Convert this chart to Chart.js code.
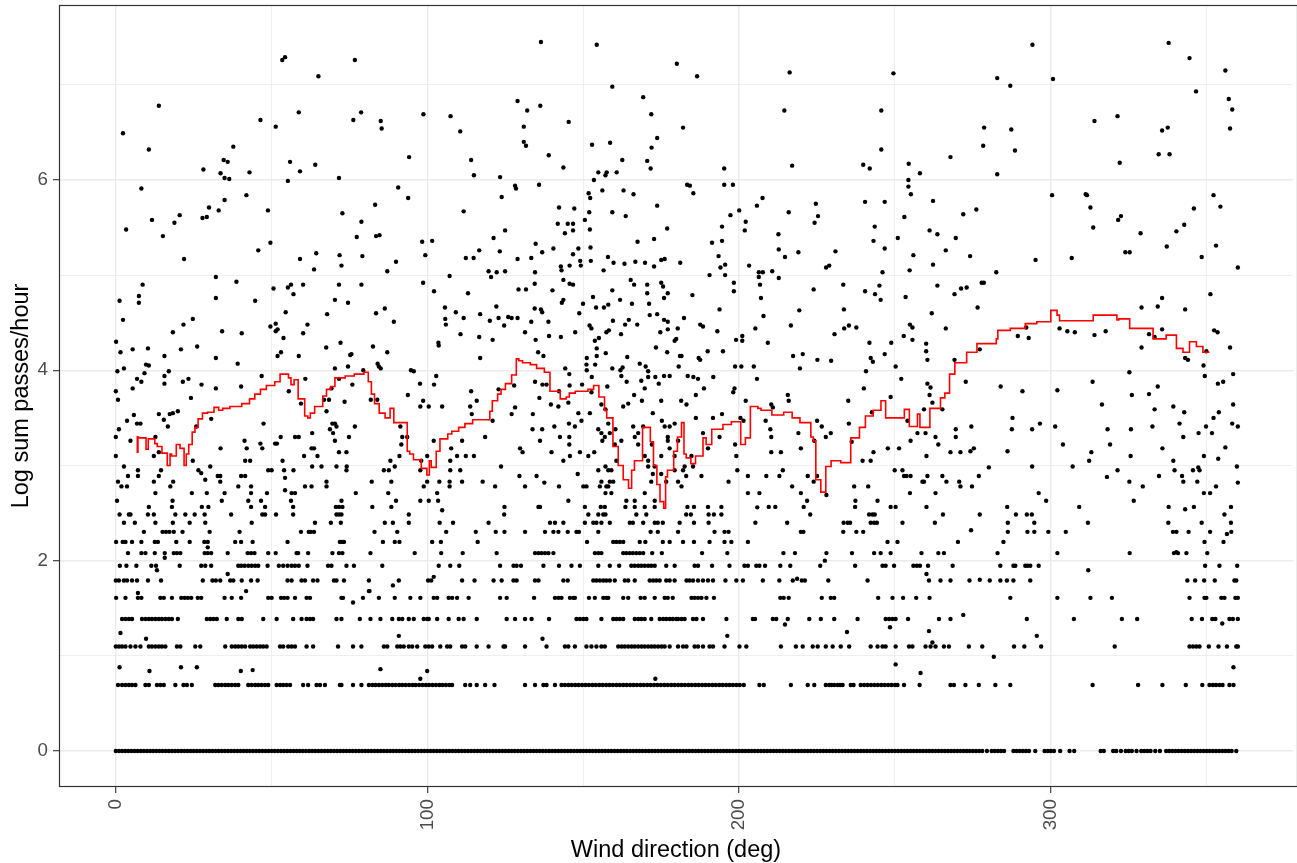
<!DOCTYPE html>
<html>
<head>
<meta charset="utf-8">
<title>Passes by wind direction</title>
<script src="https://cdn.jsdelivr.net/npm/chart.js@4/dist/chart.umd.min.js"></script>
<style>
  html, body { margin: 0; padding: 0; background: #fff; }
  #wrap { width: 1297px; height: 863px; }
</style>
</head>
<body>
<div id="wrap"><canvas id="grafico" width="1297" height="863"></canvas></div>
<script>
// wind direction (deg) of hours with n passes, one list per count n = 1..13
const dir1 = [
  0,1,2,3,4,5,6,7,8,9,10,11,12,13,14,15,16,17,18,19,20,21,22,23,24,25,26,27,28,29,
  30,31,32,33,34,35,36,37,38,39,40,41,42,43,44,45,46,47,48,49,50,51,52,53,54,55,56,57,58,59,
  60,61,62,63,64,65,66,67,68,69,70,71,72,73,74,75,76,77,78,79,80,81,82,83,84,85,86,87,88,89,
  90,91,92,93,94,95,96,97,98,99,100,101,102,103,104,105,106,107,108,109,110,111,112,113,114,115,116,117,118,119,
  120,121,122,123,124,125,126,127,128,129,130,131,132,133,134,135,136,137,138,139,140,141,142,143,144,145,146,147,148,149,
  150,151,152,153,154,155,156,157,158,159,160,161,162,163,164,165,166,167,168,169,170,171,172,173,174,175,176,177,178,179,
  180,181,182,183,184,185,186,187,188,189,190,191,192,193,194,195,196,197,198,199,200,201,202,203,204,205,206,207,208,209,
  210,211,212,213,214,215,216,217,218,219,220,221,222,223,224,225,226,227,228,229,230,231,232,233,234,235,236,237,238,239,
  240,241,242,243,244,245,246,247,248,249,250,251,252,253,254,255,256,257,258,259,260,261,262,263,264,265,266,267,268,269,
  270,271,272,273,274,275,276,277,278,279.5,281,282,283,284,285,288,289,290,291,292,293,295,298,299,300,301,303,306,307.5,
  316,317,320,321,322.5,324,325,326,327.5,329,330,331,332,333.5,335,337,338,339,340,341,342,343,344,345,346,347,348,349,
  350,351,352,353,354,355,356,357,358,359.5
];
const dir2 = [
  0.7,2,3.1,4.2,5.2,6.3,9.5,10.6,13.2,14.3,15.4,19.1,21.7,22.8,24.4,31.9,32.9,34,35.1,36.1,37.2,38.3,39.3,
  42.5,43.6,44.7,45.7,46.8,47.9,48.9,51.6,52.7,53.7,54.8,55.9,60.1,61.7,64.4,65.5,67.1,71.9,72.4,76.1,78.8,
  81.2,82.3,83.3,84.4,85.5,86.6,87.6,88.7,89.8,90.9,91.9,93,94.1,95.2,96.2,97.3,98.4,99.5,100.5,101.6,102.7,
  103.8,104.8,105.9,107,107.9,112.1,113.7,115.8,118.5,121.5,131.3,134.5,137.2,138.2,140.9,
  143,144.1,145.2,146.3,147.4,148.5,149.6,150.7,151.8,152.9,154,155.1,156.2,157.3,158.4,159.5,160.6,161.7,
  162.8,163.9,165,166.1,167.2,168.3,169.4,170.5,171.6,172.7,173.8,174.9,176,177.1,178.2,179.3,180.4,181.5,
  182.6,183.7,184.8,185.9,187,188.1,189.2,190.3,191.4,192.5,193.6,194.7,195.8,196.9,198,199.1,200.2,201.5,
  206.5,207.9,216.6,222,224.1,227.8,228.9,229.6,230.5,231.6,232.4,233.2,235.8,236.7,239,240.1,241.2,242.3,
  243.4,244.5,245.6,246.7,247.8,248.9,250,250.8,252.9,257.9,267.8,268.9,272.6,276.9,282.2,
  287,313.4,328,335.8,343.3,348.6,350.9,352,353,354.1,355.1,357.3,358.6
];
const dir3 = [
  0,1,2,3.1,4.7,6.3,7.9,10.6,11.6,12.7,13.8,14.8,15.9,19.6,20.7,25.5,27.1,35.1,37.2,38.3,39.3,40.4,41.5,
  43.1,44.1,45.2,46.3,47.3,48.4,52.7,53.7,55.3,56.4,57.5,61.2,63.3,71.3,76.1,78.8,
  86,87.1,90.3,91.3,92.4,94,95.1,96.7,99.3,100.4,101.5,104.1,106.3,107.3,111.1,112.1,115.8,119.6,124.4,124.9,
  131.3,138.2,144.1,145.2,147.3,151,152.6,154.2,155.8,156.9,161.2,162.3,163.3,164.4,165.5,166.5,167.6,
  168.7,169.7,170.8,171.9,172.9,174,175.1,176.1,177.7,
  180.4,182,183.1,185.7,186.8,188.4,190.5,191.6,195.3,200.1,202.3,213.4,218.2,220.4,223.6,225.2,227.8,230,
  232.6,235.3,242.2,244.4,246,247,250.2,254.5,255.6,259.8,261.4,263,265.7,267.3,273.7,278,
  288.2,291.5,296.9,320.5,344.5,345.6,346.7,347.7,350.7,353.8,356.5,359.5,360
];
const dir4 = [
  2,3.1,4.2,5.2,8.4,9.5,10.6,11.6,12.7,13.8,14.8,15.9,17,18,19.9,29.2,30.3,31.3,32.4,35.6,39.3,40.4,47.3,
  51.6,56.9,59.6,61.2,62.3,63.3,70.8,72.4,78.3,
  81.7,84.9,88.7,90.8,91.9,94,95.6,98.8,99.9,100.4,103.1,106.8,110,111.6,115.8,125.4,128.1,131.3,133.4,139,
  147.8,148.9,150,151,155.8,159.6,160.6,161.7,162.8,166.5,167.6,168.6,169.7,171.8,174.5,175.6,176.6,177.7,
  178.7,179.8,180.4,181.5,182.5,185.2,186.3,188.4,195.9,204.4,205.1,210.8,211.9,215.6,222.5,226.2,230.5,238,
  247,248.1,249.2,250.2,254.2,264.1,267.8,
  292.3,307.4,322.8,327.7,345.2,348.5,351.8,352.8,357.3,358.4,360
];
const dir5 = [
  0.1,3.1,7.1,8.2,14.3,15.4,18,21,22.1,23.1,24.2,26.3,27.4,34.9,37.2,40.2,48.9,50,53,54,55.1,57.5,61.2,62.3,
  72.4,72.9,79.3,
  84.4,89.5,94.5,97.7,102,103.1,106.8,107.9,109.5,113.2,123.3,125.4,134.2,140.9,142,143,145.7,146.8,147.3,
  151.8,153.7,156.4,157.4,158,162.8,164.4,168.4,169.7,172.9,176.1,177.1,178.7,
  184.7,185.7,186.8,187.9,189.5,191.9,213.2,214.3,215.9,226.5,229.4,230.5,244.6,249.2,252.6,256.8,261.1,
  287,302.1,312.7,319.6,344.5,349.3,349.9,354.7,355.7,359.2,360
];
const dir6 = [
  0,1,2.6,3.6,5.2,6.8,10.3,14.5,27.9,31,32.1,33.5,36.7,37.7,40.4,43.4,45.5,55.1,56.4,59.6,60.7,63.3,64.7,
  70,70.8,73.2,
  81.2,90.8,100.2,101.2,111.1,115.1,121.2,123.8,127.6,128.6,134.5,135.6,143.6,145,153.2,154.2,155.3,156.4,
  157.4,158.5,160.1,163.3,164.4,166.5,171.3,172.4,173.4,174.5,176.6,177.7,179.3,
  183.1,184.1,185.2,186.8,188.4,190,191.6,195.6,199.1,201.2,207.6,212.9,217.2,220.1,221.1,228.6,241.2,260.9,
  264.6,267.8,273.9,280.4,
  283.8,285.9,288,293.4,343.8,346.3,349.2,352.6,358.9,359.5
];
const dir7 = [
  1.3,3.4,6.6,11.4,12.9,20.5,27.4,28.7,30.6,39.3,40.2,41.3,42.5,43.6,44.7,45.7,48.7,52.3,53.7,55.1,56.4,57.5,
  58.7,61.5,68.1,69.2,74,76.4,
  85.5,103.6,107.3,110.2,123.3,127.6,128.6,130,137.2,142.2,146.2,148.9,154.8,158.5,161.5,165.4,166.5,167.6,
  168.6,169.7,170.8,171.8,172.9,176.6,179.3,
  185.7,186.8,191.3,196.9,201.7,202.8,205.5,206.5,208.3,213.2,216.4,226,237.2,246,247,249.7,255.9,257,258,
  260.6,268.5,
  283.8,288,288.6,291.8,292.5,293.4,296.1,349.5,354.1,359.8
];
const dir8 = [
  3.9,8.2,9.5,12.5,15.7,18.6,19.6,20.7,28.5,29.5,30.6,35.9,42.3,43.4,44.5,48.9,51.3,58,58.5,61.7,69.5,71.6,72.7,
  81.7,95.9,104.4,111.3,122.2,134.5,135.6,136.6,137.7,138.8,140.4,153.7,154.8,155.8,162.8,163.8,164.9,165.9,
  167,168.1,169.2,172.1,175.2,
  188.1,196.2,214.2,217.9,228,236.2,243.3,245.4,248.6,258.5,263.9,265.7,
  282.9,302.1,325.3,339.5,340.8,343.5,350.2
];
const dir9 = [
  0.1,2.2,3.1,5.2,8.2,12.5,13.5,19.4,23.7,28.4,29.5,38.3,40.2,43.9,55.1,71.9,72.6,73.2,
  85.7,89.5,91,101.5,104.3,116.1,151.2,159.6,160.6,161.7,162.8,168.1,169.9,175.5,177.7,
  182,185.5,190.5,195.3,197.5,202.8,247.6,250.8,270.2,
  284.8,349.3,355.4
];
const dir10 = [
  9,15,16.1,17.2,18.6,21.4,30.1,39.7,59.4,61.9,62.6,63.6,
  83,90.3,106,115.5,121.9,124.7,131.3,137.7,140.4,142,145,147.8,148.6,154.8,171.6,173.9,
  180.4,192.1,195.3,196.6,219.8,220.6,233.4,237.6,239.8,
  286.2,292.5,294.7,299.2,304.8,339.2,340.3,344.2,351.1,357.9
];
const dir11 = [
  2.6,6.1,12.7,18.3,23.7,28.7,43.6,63.9,69,72.2,
  86.3,88.9,94,103.9,108.2,119.6,139.3,140.9,143.6,150.5,153.2,154.2,155.8,158.5,164.9,165.9,169.2,172.9,
  173.9,175.5,
  180.9,185.5,190.2,205.2,215.4,233.5,234.8,235.6,242.2,243.3,244.2,252.4,262.8,
  286.2,294.7,311.9,337.7,348.4,357.8
];
const dir12 = [
  1.2,4.2,4.7,10.3,12.2,19.1,22.3,25.3,28.5,37,47,47.9,51.4,56.9,70.8,71.6,72.4,
  94,124.6,151.6,154.8,156.4,157.1,167,170.2,183,
  184.5,190.2,191.9,194.3,222.8,241.7,242.8,243.5,265.4,277.2,
  288.8,292.3,293.9,355.7
];
const dir13 = [
  10.6,18,27.6,29.7,43.4,47.9,56.9,70.6,71.6,72.7,
  82.3,88.4,124.7,135.6,136.1,150.5,155.6,156.9,163.5,166.5,169.7,172.9,
  183.4,185.5,190,194.3,209.5,211.6,220.7,237.2,248.6,250.2,260.1,
  286,309.1,337.8,345.9,357.8
];

// remaining hours as [direction, log passes]
const otherPts = [
  [1,3.38],[0,3.30],[0,3.10],[3.6,3.47],[4.7,3.26],[5.8,3.53],[6.8,3.44],[7.9,3.44],[2.6,2.99],[7.1,2.95],
  [7.1,2.89],[3.9,2.89],[0.7,2.83],[1.8,2.78],[3.6,2.78],[0.4,2.63],[13.8,3.54],[15.4,3.48],[16.7,3.41],
  [12.7,3.30],[12.2,3.10],[13.8,3.14],[14.5,2.95],[13.8,2.89],[12.2,2.83],[12.7,2.71],[17.3,3.54],[18.3,3.55],
  [19.9,3.57],[18.4,2.83],[17.5,2.78],[18.2,2.63],[25.8,3.41],[24.7,3.05],[26.5,2.95],[27.4,2.92],[28.7,2.85],
  [30.3,2.99],[32.7,2.89],[33.5,2.89],[30.6,3.49],[33.6,3.18],[33.5,2.83],[24.4,2.71],[29.2,2.71],[34.9,2.71],
  [34,2.63],[41.3,3.26],[42,3.18],[41.5,3.05],[43.1,3.05],[40.2,2.89],[41.5,2.89],[39.3,2.78],[43.4,2.78],
  [43.4,2.71],[42.5,2.63],[46.6,2.63],[46.4,3.23],[47,3.18],[47.4,3.44],[48.5,2.71],[48.9,2.95],[50,2.95],
  [51.1,3.23],[51.7,3.23],[52.9,3.30],[53.5,3.05],[54,2.95],[57,2.95],[54.3,2.87],[54.3,2.74],[56.4,2.71],
  [57.5,2.71],[56.2,2.63],[57.5,3.30],[58.7,3.30],[60.4,3.10],[62.8,3.18],[63.6,3.18],[64.7,3.10],[63,3.34],
  [63,2.99],[66,2.99],[70.8,2.99],[74.1,2.99],[74,2.95],[71.6,3.14],[74,3.14],[60.7,2.78],[62.8,2.78],
  [67.6,2.83],[67.6,2.78],[77,2.71],[72.4,2.63],[70.3,3.26],[69.7,3.34],[68.7,3.38],[69.5,3.44],[70.3,3.44],
  [70.8,3.41],[76.7,3.41],[74.8,3.30],[67.6,3.57],[68.4,3.69],
  [1.5,1.24],[9.7,1.18],[7.1,1.66],[41.8,1.68],[76.1,1.56],[81.4,1.68],[13.2,1.90],[35.9,1.86],[15.7,2.03],
  [29.5,2.14],[1.2,0.88],[10.8,0.84],[20.9,0.88],[26,0.88],[40.1,0.84],[43.9,0.85],
  [53.4,7.26],[54.3,7.29],[76.7,7.26],[65,7.09],[13.8,6.78],[2.3,6.49],[10.6,6.32],[46.4,6.63],[51.3,6.56],
  [58.7,6.71],[76.2,6.63],[78.7,6.71],[37.7,6.35],[34.6,6.21],[35.9,6.19],[28.1,6.11],[33.6,6.07],[34.9,6.02],
  [36.4,6.01],[42.9,6.08],[55.9,6.19],[59.1,6.09],[64,6.16],[55.2,5.99],[71.6,6.02],[8.2,5.91],[3.3,5.48],
  [11.6,5.58],[15.1,5.41],[18.8,5.55],[20.5,5.63],[27.8,5.6],[29.2,5.61],[29.9,5.71],[33,5.68],[34.9,5.79],
  [41.9,5.84],[48.8,5.68],[49.6,5.34],[45.7,5.26],[21.9,5.17],[32.1,4.98],[32.1,4.76],[38.7,4.93],[44.7,4.73],
  [50.6,4.86],[55.2,4.87],[56.2,4.9],[57,4.8],[60.1,4.9],[59.1,5.17],[64.3,5.23],[63.6,5.06],[71.8,5.21],
  [72.4,5.1],[72.7,5.65],[78.8,5.56],[77.3,5.4],[79.1,5.2],[71.6,4.9],[78.8,4.9],[70.3,4.74],[67.8,4.59],
  [74.5,4.71],[1.2,4.73],[2.3,4.53],[7.4,4.78],[7.4,4.71],[8.6,4.9],[0.1,4.3],[1.5,4.19],[2.6,4.02],[0.5,3.99],
  [5.4,4.22],[10.3,4.23],[9.7,4.06],[10.6,4.05],[9.2,3.97],[6.8,3.91],[8.2,3.88],[5.4,3.81],[0,3.78],[0.7,3.69],
  [15.6,4.15],[18.3,4.4],[15.6,3.94],[15.6,3.86],[17,3.99],[21.7,4.48],[24.7,4.54],[20.9,4.22],[21.5,3.88],
  [23.3,3.91],[26.1,4.25],[27.5,3.85],[24.1,3.71],[32.1,4.13],[32.1,3.81],[34.1,4.41],[40.4,4.39],[39.1,4.07],
  [40.2,3.83],[46.8,3.94],[49.6,4.46],[51.3,4.49],[51.3,4.41],[51.9,4.43],[53.8,4.34],[54.5,4.61],[51.9,4.15],
  [53,4.19],[58.7,4.15],[60.1,4.39],[61.5,4.48],[60.8,3.91],[55.5,3.78],[59.4,3.65],[67.5,4.24],[70.3,4.02],
  [72.1,4.29],[71.6,3.91],[74.5,4.04],[75.2,4.16],[75.6,4.17],[75.9,3.85],[79.4,4.0],[81.8,3.69],[66.8,3.69],
  [69.2,3.81],[73.4,3.67],
  [136.4,7.45],[154.3,7.42],[180,7.22],[159.3,6.98],[169.2,6.87],[171.8,6.69],[182,6.55],[85,6.62],[85.3,6.54],
  [98.7,6.69],[107.4,6.67],[110.5,6.51],[128.9,6.83],[132,6.73],[136.2,6.78],[130.9,6.56],[130.9,6.4],
  [131.6,6.36],[145.3,6.61],[152.8,6.37],[158.6,6.39],[170.5,6.2],[173.7,6.44],[171.9,6.34],[171.6,6.12],
  [94.1,6.24],[114,6.21],[114.9,6.05],[123.3,6.03],[138.9,6.26],[143.6,6.13],[162.5,6.21],[154.8,6.08],
  [157.1,6.05],[157.5,6.08],[160.7,6.08],[153.4,6.0],[135.8,5.95],[128.1,5.94],[128.4,5.91],[123.8,5.82],
  [90.6,5.92],[83.2,5.74],[93.8,5.81],[111.6,5.67],[142.2,5.71],[147.1,5.7],[151.7,5.86],[152.2,5.81],
  [156.1,5.89],[162.9,5.89],[166.1,5.85],[173.7,5.73],[183.3,5.95],[151.9,5.66],[159.3,5.66],[163.6,5.62],
  [150.5,5.58],[141.8,5.54],[145,5.54],[146.7,5.54],[144.1,5.44],[146.7,5.47],[124.9,5.47],[121.2,5.39],
  [152.1,5.48],[176.9,5.49],[172.7,5.38],[167.4,5.35],[83.5,5.41],[84.6,5.42],[98.3,5.35],[101.5,5.36],
  [99.3,5.21],[89.9,5.14],[87.1,5.04],[112.3,5.18],[114.8,5.18],[116.6,5.26],[123.2,5.25],[128.9,5.17],
  [133.3,5.18],[134.7,5.33],[136.8,5.24],[140.4,5.28],[142.8,5.09],[143,5.05],[145.6,5.1],[146.7,5.22],
  [148.4,5.28],[149,5.15],[149.2,5.1],[152.3,5.29],[152.4,5.15],[157.9,5.19],[159.7,5.13],[156.5,5.05],
  [163.2,5.12],[166.7,5.14],[169.8,5.13],[172.7,5.09],[175,5.16],[176.1,5.17],[181.1,5.13],[119.6,5.04],
  [120.4,4.98],[122.2,5.03],[124.9,5.04],[134.5,5.03],[107.1,4.99],[98.6,4.92],[102.1,4.83],[113,4.81],
  [129.2,4.85],[131.6,4.85],[134.4,4.91],[140.1,4.84],[143.6,4.95],[145.6,4.91],[146.7,4.9],[159.3,4.84],
  [165.2,4.95],[166.3,4.9],[170.5,4.9],[175,4.92],[175.6,4.88],[170.5,4.81],[175.9,4.76],[177.1,4.81],
  [105.6,4.66],[109.1,4.61],[111.6,4.55],[105.7,4.54],[105.9,4.48],[116.9,4.59],[120,4.52],[122.1,4.67],
  [122.8,4.55],[125.9,4.56],[127,4.55],[128.9,4.55],[124.6,4.47],[134.4,4.65],[136.4,4.64],[136.8,4.61],
  [133.3,4.51],[138.8,4.51],[143.1,4.71],[143.6,4.74],[149.9,4.7],[148.7,4.6],[153.1,4.77],[154.1,4.66],
  [156.6,4.66],[158,4.69],[159.5,4.52],[161.8,4.74],[165.6,4.7],[164.6,4.53],[163.4,4.48],[167.3,4.48],
  [171.1,4.7],[171.3,4.58],[173.7,4.59],[174.7,4.4],[175.9,4.53],[177.1,4.51],[177.1,4.43],[180.3,4.44],
  [182.3,4.55],[131.3,4.4],[134.7,4.32],[139,4.36],[142.8,4.35],[147.4,4.4],[152,4.47],[152.6,4.44],
  [153.7,4.31],[154.3,4.23],[155,4.34],[157.4,4.4],[158.2,4.42],[162.1,4.38],[173.3,4.24],[179.3,4.31],
  [179.8,4.33],[176.9,4.19],[180.6,4.04],[181,4.15],[110.6,4.38],[116.6,4.35],[120.9,4.32],[103.5,4.29],
  [103.6,4.26],[116.9,4.13],[82.5,4.25],[87.1,4.19],[89.2,4.51],[86.3,4.65],[83.5,4.6],[84.4,4.04],[85,4.02],
  [84,4.07],[94.7,4],[95.6,3.99],[97.6,3.86],[102.1,3.85],[102.8,3.94],[93.7,3.74],[98.6,3.68],[114,3.78],
  [115.8,3.68],[122.8,3.8],[127.8,3.84],[134.5,3.88],[135.5,4.19],[137.2,4.15],[136.9,3.85],[138.2,3.85],
  [135.9,3.71],[139.6,3.64],[142.2,3.78],[144.2,4.02],[145.5,3.96],[145.6,3.84],[149.6,3.85],[151.1,4.13],
  [151,4.06],[151.1,4],[152.7,3.93],[153.8,4.06],[154.3,4.15],[157.2,4.18],[157.7,3.83],[159.3,4.02],
  [161.9,4],[162.6,4.03],[162.2,3.94],[164.1,4.14],[163.9,3.88],[168.1,4.07],[170,4.04],[170.8,3.99],
  [168.6,3.89],[169.7,3.81],[170.8,3.93],[173.1,3.93],[174.2,3.86],[175.9,3.94],[177.7,3.94],[183.5,3.94],
  [175,3.68],[168.8,3.68],[166.3,3.74],[164.4,3.65],[181.4,3.68],[152.6,3.77],[145.2,3.66],
  [83.9,3.69],[97.7,3.62],[100.4,3.62],[104.7,3.62],[91.3,3.41],[91.9,3.3],[91.6,3.22],[93.5,3.3],[91,3.1],
  [88.1,3.05],[89.5,2.99],[86,2.95],[87.6,2.95],[99.9,3.1],[98,3.05],[102,3.26],[107.6,3.18],[107.3,3.05],
  [111.1,3.26],[109.5,3.1],[112.3,3.1],[114.9,3.1],[97.7,2.95],[107.3,2.95],[110.5,2.95],[82.1,2.83],
  [88.4,2.83],[99.9,2.83],[103.8,2.83],[107.1,2.83],[111.1,2.83],[117.7,2.83],[98.8,2.78],[107.1,2.78],
  [121.7,2.78],[87.4,2.71],[103.1,2.71],[97.7,2.63],[100.4,2.63],[103.4,2.63],[89.9,2.63],[104.7,2.53],
  [118.5,3.3],[113.7,3.62],[114.2,3.54],[120.9,3.47],[123.6,2.99],[127,3.54],[128.1,3.61],[129.5,2.89],
  [130.5,3.14],[129.7,3.18],[133.8,3.54],[133.7,3.38],[136.8,3.38],[136.1,3.26],[135,2.89],[137.5,2.82],
  [131.3,2.78],[142,3.62],[140.7,3.41],[142.5,3.3],[139.8,3.14],[143.6,3.05],[145.4,3.44],[145.5,3.3],
  [145.5,3.22],[145.7,3.1],[147.3,3.41],[148.2,2.91],[142.2,2.78],[145.2,2.63],[148.4,3.55],[149.4,3.47],
  [152.1,3.55],[148.9,3.14],[151.6,3.1],[153.5,3.14],[150,2.78],[151,2.78],[154.8,3.38],[155.8,3.34],
  [156.9,3.3],[156.1,3.26],[155.8,3.64],[157.1,3.59],[158,3.44],[158.5,3.34],[160.3,3.38],[160.1,3.22],
  [162.2,3.26],[160.6,3.05],[162.8,3.62],[166,3.41],[167.6,3.34],[166.5,3.3],[167.6,3.22],[169.2,3.41],
  [172,3.22],[172.3,3.55],[175.2,3.47],[176.1,3.41],[177.7,3.41],[179.3,3.44],[175,3.1],[177.1,3.3],
  [177.1,3.26],[177.7,3.18],[179.3,3.1],[169.7,3.1],[170.8,3.05],[170.8,2.99],[172.9,2.99],[172.3,2.91],
  [171.8,2.83],[175,2.91],[176.6,2.83],[179.3,2.95],[157.1,2.99],[154.8,2.95],[158,2.95],[159,2.95],
  [155.8,2.83],[158.5,2.83],[159.6,2.83],[157.4,2.78],[155.3,2.78],[158,2.78],[157.1,2.71],[159,2.71],
  [163.8,2.63],[166.5,2.63],[169.7,2.71],[172.9,2.63],[182,2.95],
  [84.9,0.86],[97.7,0.76],[99.9,0.84],[173.1,0.76],[90.8,1.21],[136.9,1.18],[88.9,1.74],[102,1.83],[81.2,1.68],
  [186.5,7.09],[216.2,7.13],[249.5,7.12],[214.5,6.73],[245.6,6.73],[278.6,6.55],[278.3,6.36],[245.6,6.32],
  [267.8,6.24],[195.2,6.12],[217,6.15],[239.8,6.16],[241.9,6.12],[254.4,6.17],[258,6.07],[184.2,5.94],
  [185.3,5.86],[195.2,5.95],[198,5.95],[254.3,6],[254.3,5.93],[255.1,5.85],[240.4,5.77],[246.7,5.77],
  [262.2,5.78],[207.5,5.81],[205.7,5.73],[200,5.68],[197.2,5.63],[202.1,5.56],[201.8,5.47],[215.9,5.66],
  [224.6,5.75],[225.3,5.62],[224.2,5.55],[212.6,5.43],[212.7,5.27],[214.7,5.19],[219,5.24],[230.9,5.25],
  [227.9,5.08],[228.9,5.1],[243.5,5.51],[243.1,5.36],[246.7,5.28],[250.9,5.39],[253,5.61],[255.9,5.21],
  [254.7,5.05],[261.1,5.47],[263.6,5.43],[262.2,5.11],[271.9,5.64],[276.1,5.69],[269.5,5.39],[266.3,5.26],
  [274.1,5.2],[194.5,5.51],[194.5,5.36],[191.3,5.34],[193.4,5.2],[194,5.08],[195.5,5.11],[190.5,5],[195.5,5],
  [203.2,5.1],[206.3,5.03],[207.6,5.03],[206.3,4.98],[206.7,4.9],[207,4.76],[210.6,5.04],[212.7,4.97],
  [198.3,4.92],[198.3,4.83],[185,4.79],[193.7,4.64],[187.5,4.48],[188.4,4.46],[193,4.41],[207.8,4.57],
  [205.2,4.44],[209.2,4.29],[199,4.32],[201,4.36],[201,4.31],[189.9,4.2],[194.8,4.2],[187,4.13],[187.5,4.11],
  [181.5,4.15],[223.9,4.85],[233.4,4.9],[233.6,4.64],[233.7,4.44],[235.2,4.47],[237.6,4.45],[230.6,4.38],
  [219.3,4.63],[216.6,4.47],[217.3,4.15],[220.4,4.17],[219.5,4.02],[225.1,4.11],[229.5,4.1],[240.4,4.83],
  [243.6,4.8],[245,4.89],[245.4,4.74],[246,5.03],[241.8,4.29],[242.2,4.13],[242.9,4.09],[246.7,4.17],
  [248.8,4.29],[250.2,4.04],[240.7,3.99],[253.4,4.77],[254.8,4.48],[255.6,4.45],[255.6,4.32],[252.8,4.36],
  [260,4.28],[260,4.2],[260.4,4.11],[261.8,4.6],[263.6,4.89],[266.3,4.44],[269.1,4.11],[269.1,4.8],
  [271.2,4.86],[273,4.87],[277.8,4.92],[278.5,4.92],[276.5,4.66],[277.2,4.22],[272.7,3.88],[252,3.91],
  [260.4,3.86],[261.4,3.82],[261.1,3.74],[262,3.66],[240,3.81],[235,3.68],[215.6,3.74],[215.9,3.68],
  [210.3,3.64],[202.1,3.68],[205.7,3.91],[204.7,4.04],[198.7,4.04],[200.7,4.04],[198.5,3.81],[198.1,3.77],
  [191.7,3.93],[188.7,3.81],[186.1,3.74],[185.3,3.93],[186.8,3.91],[183.1,3.64],
  [186.1,3.5],[191.6,3.5],[194.5,3.54],[200.4,3.5],[201.4,3.47],[193.7,3.3],[190,3.18],[180.4,3.26],
  [184.7,3.1],[188.4,3.34],[198.7,3.22],[199.1,3.1],[199.4,2.95],[196.6,2.83],[182.5,2.99],[185.2,2.99],
  [180.4,2.83],[181.5,2.78],[183,2.89],[187.9,2.89],[202.8,2.89],[208.7,2.89],[212.9,2.89],[214,2.95],
  [202.8,2.71],[206.5,2.71],[208.5,3.47],[210.8,3.61],[210,3.38],[210.3,3.3],[210.3,3.14],[213.4,3.14],
  [219,3.34],[219.8,3.18],[217,2.78],[219.8,2.71],[221.8,2.63],[222,2.89],[223.9,2.83],[225,2.89],
  [224.1,3.26],[225,3.47],[226.5,3.41],[227.8,3.3],[229.4,3.34],[228,2.69],[235.2,3.44],[236.1,3.25],
  [236.9,2.78],[237.3,2.63],[241.4,2.78],[239.6,3.05],[242.2,3.05],[242.6,3.56],[243.1,3.14],[244.4,2.63],
  [247.7,3.18],[251.3,3.18],[249.9,2.95],[252.4,2.95],[252.9,2.89],[253.7,2.89],[255,2.89],[254.8,2.71],
  [248.6,3.72],[259.3,3.59],[254,3.47],[255,3.26],[257.2,3.34],[259.8,3.34],[263,3.3],[263.9,3.22],
  [260.1,3.1],[265.2,3.59],[267.8,3.14],[271,3.14],[269.5,3.38],[269.5,3.3],[274.5,3.41],[274.2,3.15],
  [275.3,3.18],[280.1,2.98],[276.9,2.89],[271,2.78],[274.7,2.78],[270.6,2.83],[266.5,2.83],[265.2,2.89],
  [258.8,2.83],[259.3,2.83],[260.4,2.89],[263,2.71],[274.4,2.32],[205.8,2.56],
  [250.2,0.91],[258.2,0.82],[281.7,0.99],[196.2,1.21],[234.6,1.25],[260.9,1.26],[262,1.14],[214.7,1.33],
  [248.4,1.30],[271.9,1.43],[218.6,1.81],[260.1,1.86],[277.2,1.80],[227.5,2.0],
  [294.1,7.42],[337.8,7.44],[344.5,7.28],[356,7.15],[282.8,7.07],[287,6.99],[300.7,7.06],[346.6,6.93],
  [357.1,6.85],[358.2,6.74],[357.5,6.54],[314,6.62],[321.4,6.67],[335.7,6.52],[337.5,6.55],[287.3,6.53],
  [288.5,6.31],[322.1,6.18],[334.6,6.27],[338.1,6.27],[282.8,6.06],[300.4,5.84],[311.2,5.85],[311.6,5.84],
  [312.7,5.71],[313.6,5.5],[321.6,5.58],[322.5,5.62],[328.8,5.44],[323.9,5.24],[325.3,5.24],[337.2,5.3],
  [340.3,5.46],[342.8,5.53],[345.9,5.7],[352.2,5.84],[354.4,5.72],[353,5.31],[348.4,5.19],[360,5.08],
  [295.1,5.16],[306.7,5.18],[282.5,5.03],[351.2,4.8],[335.7,4.76],[334.3,4.67],[329.1,4.66],[343.1,4.64],
  [292.1,4.45],[289.4,4.36],[292.9,4.34],[302.8,4.44],[305.3,4.41],[307.7,4.4],[314,4.37],[317.6,4.41],
  [331.5,4.38],[333.3,4.35],[335.7,4.43],[329.1,4.24],[343.1,4.13],[344,4.11],[349.9,4.2],[349,4.05],
  [349.4,3.94],[352.4,4.42],[353.5,4.4],[357.5,4.24],[358.5,3.96],[353.6,3.86],[355.3,3.88],[325.2,3.98],
  [313.4,3.88],[283.9,3.83],[290.9,3.78],[302.1,3.79],[326,3.74],[331.5,3.75],[334.3,3.83],[316.4,3.64],
  [358.5,3.64],
  [333.3,3.59],[339.3,3.62],[342.8,3.56],[287.7,3.5],[287.5,3.38],[294,3.38],[296.5,3.44],[301.4,3.41],
  [303.9,3.22],[286.1,3.15],[318.2,3.38],[325.7,3.38],[319,3.22],[313,3.14],[312.3,3.05],[325.6,3.1],
  [332.6,3.41],[335.8,3.18],[341.3,3.44],[342.5,3.3],[347.4,3.34],[349.8,3.41],[351.7,3.34],[352.2,3.5],
  [353.9,3.56],[358.2,3.44],[360,3.41],[356,3.19],[353.7,3.07],[349.1,3.1],[339.3,3.05],[294,2.99],[307,2.99],
  [321.4,2.95],[318,2.88],[325.2,2.83],[329.5,2.78],[334.7,2.89],[339.7,2.95],[342.1,2.89],[342.5,2.83],
  [345.6,2.95],[347.3,2.98],[347.7,2.95],[347,2.83],[359.7,2.99],[360,2.82],[296.1,2.71],[298.5,2.63],
  [326.6,2.63],[349.1,2.71],[351.1,2.71],[353,2.78],[343.1,2.54],[356.5,2.28],[340.3,2.09],
  [295.5,1.21],[355,1.34],[312,1.90],[358.6,0.88]
];

// running mean: [start direction, level]
const mediaMovil = [
  [6.9,3.31],[7.1,3.14],[7.3,3.30],[9.7,3.29],[10.4,3.17],[12.5,3.28],[13.3,3.23],[14.8,3.20],[16.5,3.13],
  [17.4,3.00],[17.9,3.12],[19.4,3.10],[20.6,3.22],[21.9,3.18],[22.6,3.00],[23.4,3.12],[24.5,3.22],[25.4,3.35],
  [26.4,3.40],[27.8,3.49],[29.4,3.55],[31.5,3.56],[33,3.61],[34.3,3.58],[36.6,3.60],[40.4,3.62],[42.9,3.65],
  [44.6,3.70],[46.4,3.75],[48.3,3.80],[51,3.84],[52.7,3.88],[55.4,3.96],[56.2,3.92],[57.2,3.85],[58.5,3.90],
  [60.6,3.70],[61.6,3.52],[62.4,3.50],[63.8,3.55],[66.4,3.62],[67.6,3.73],[69,3.80],[70.3,3.83],[73.6,3.92],
  [76.5,3.94],[79.6,3.96],[81,3.98],[82,3.88],[83,3.75],[84.5,3.65],[86.4,3.55],[88,3.50],[89.2,3.60],
  [93.5,3.45],[94.3,3.15],[95.5,3.12],[98,3.06],[99.8,2.97],[100.6,2.90],[101.2,3.05],[102.8,2.98],[104,3.15],
  [106.5,3.28],[107.8,3.33],[110,3.36],[112,3.40],[114.5,3.44],[116.2,3.48],[120,3.48],[120.8,3.57],
  [122.5,3.68],[123.6,3.75],[125,3.80],[127,3.86],[128.5,3.95],[129.3,4.12],[130.5,4.10],[133,4.08],
  [135,4.06],[137.5,4.02],[139.3,3.98],[142.6,3.78],[144.5,3.70],[145.5,3.72],[147.4,3.76],[151.5,3.78],
  [153.3,3.80],[155,3.84],[156.8,3.72],[157.5,3.58],[159.5,3.50],[161.2,3.20],[162.8,3.00],[164.5,2.85],
  [165.5,2.76],[166.4,2.95],[169,3.05],[169.6,3.40],[171.5,3.40],[172.5,3.25],[173.6,3.00],[174.6,2.80],
  [175.8,2.62],[176.4,2.55],[177,2.88],[179,2.95],[180.2,3.15],[181.5,3.30],[182.3,3.45],[183,3.12],
  [184.5,3.08],[186,3.02],[188.4,3.10],[189.4,3.29],[191.2,3.22],[194.8,3.38],[197.5,3.43],[200.5,3.46],
  [202,3.22],[203.6,3.29],[206,3.62],[207,3.60],[210.5,3.58],[214.3,3.53],[217,3.56],[219.5,3.50],[223,3.45],
  [223.8,3.30],[224.6,3.26],[226.2,2.85],[227.8,2.72],[229.5,2.99],[232.6,3.05],[235.8,3.03],[238.6,3.29],
  [240.5,3.40],[243,3.52],[245.5,3.58],[247,3.68],[253,3.50],[254.6,3.59],[257.2,3.41],[258,3.54],
  [261.2,3.40],[264.6,3.60],[266,3.71],[267.5,3.76],[269.2,3.96],[273,4.08],[276.3,4.19],[282.5,4.28],
  [283,4.33],[287,4.42],[291.8,4.44],[295.5,4.49],[300,4.51],[302,4.63],[302.8,4.58],[313.6,4.52],
  [321.2,4.58],[321.8,4.53],[325.3,4.54],[332.8,4.44],[337,4.33],[340.3,4.37],[342.4,4.23],[344.5,4.19],
  [346.7,4.30],[348.8,4.25],[349.8,4.19],[350.9,4.19]
];

const ticksX = [0, 100, 200, 300];
const gridX = [0, 50, 100, 150, 200, 250, 300, 350];
const ticksY = [0, 2, 4, 6];
const gridY = [0, 1, 2, 3, 4, 5, 6, 7];

const levelDirs = [dir1, dir2, dir3, dir4, dir5, dir6, dir7, dir8, dir9, dir10, dir11, dir12, dir13];

function armarPuntos() {
  const pts = [];
  levelDirs.forEach((dirs, i) => {
    const y = Math.log(i + 1);
    dirs.forEach(d => pts.push({ x: d, y: y }));
  });
  otherPts.forEach(p => pts.push({ x: p[0], y: p[1] }));
  return pts;
}

const GRIS_GRID = "#EBEBEB";
const GRIS_BORDE = "#333333";
const fuente = "'Liberation Sans', Arial, sans-serif";

// white background, and the panel border drawn on top of everything
const bordePanel = {
  id: "bordePanel",
  beforeDraw(chart) {
    const ctx = chart.ctx;
    ctx.save();
    ctx.fillStyle = "#fff";
    ctx.fillRect(0, 0, chart.width, chart.height);
    ctx.restore();
  },
  afterDraw(chart) {
    const a = chart.chartArea;
    const ctx = chart.ctx;
    ctx.save();
    ctx.strokeStyle = GRIS_BORDE;
    ctx.lineWidth = 1.2;
    // the right side of the panel falls just outside the canvas
    ctx.strokeRect(a.left + 0.5, a.top + 0.5, a.right - a.left + 4, a.bottom - a.top - 1);
    ctx.restore();
  }
};

function esMayor(valor, mayores) {
  return mayores.indexOf(valor) !== -1;
}

function sinRelleno(s) {
  s.paddingTop = 0;
  s.paddingBottom = 0;
  s.paddingLeft = 0;
  s.paddingRight = 0;
}

new Chart(document.getElementById("grafico"), {
  type: "scatter",
  data: {
    datasets: [
      {
        type: "line",
        data: mediaMovil.map(p => ({ x: p[0], y: p[1] })),
        borderColor: "#FF0000",
        borderWidth: 1.6,
        pointRadius: 0,
        stepped: "after",
        fill: false,
        order: 0
      },
      {
        data: armarPuntos(),
        backgroundColor: "#000",
        borderWidth: 0,
        pointRadius: 2.2,
        order: 1
      }
    ]
  },
  options: {
    responsive: false,
    animation: false,
    layout: { padding: { top: 5, right: 0, left: 0, bottom: 0 } },
    plugins: { legend: { display: false }, tooltip: { enabled: false } },
    scales: {
      x: {
        type: "linear",
        min: -18.23,
        max: 377.7,
        afterBuildTicks: s => { s.ticks = gridX.map(v => ({ value: v })); },
        afterFit: s => { s.height = 76; sinRelleno(s); },
        border: { display: false },
        grid: {
          color: GRIS_GRID,
          lineWidth: c => esMayor(c.tick.value, ticksX) ? 1.4 : 0.8,
          tickColor: c => esMayor(c.tick.value, ticksX) ? GRIS_BORDE : "rgba(0,0,0,0)",
          tickWidth: 1.1,
          tickLength: 6
        },
        ticks: {
          autoSkip: false,
          minRotation: 90,
          maxRotation: 90,
          padding: 6,
          color: "#4D4D4D",
          font: { family: fuente, size: 18.8 },
          callback: v => esMayor(v, ticksX) ? String(v) : ""
        },
        title: {
          display: true,
          text: "Wind direction (deg)",
          color: "#000",
          font: { family: fuente, size: 23.5 },
          padding: { top: 0, bottom: -2 }
        }
      },
      y: {
        type: "linear",
        min: -0.378,
        max: 7.838,
        afterBuildTicks: s => { s.ticks = gridY.map(v => ({ value: v })); },
        afterFit: s => { s.width = 59; sinRelleno(s); },
        border: { display: false },
        grid: {
          color: GRIS_GRID,
          lineWidth: c => esMayor(c.tick.value, ticksY) ? 1.4 : 0.8,
          tickColor: c => esMayor(c.tick.value, ticksY) ? GRIS_BORDE : "rgba(0,0,0,0)",
          tickWidth: 1.1,
          tickLength: 6
        },
        ticks: {
          autoSkip: false,
          padding: 5,
          color: "#4D4D4D",
          font: { family: fuente, size: 18.8 },
          callback: v => esMayor(v, ticksY) ? String(v) : ""
        },
        title: {
          display: true,
          text: "Log sum passes/hour",
          color: "#000",
          font: { family: fuente, size: 23.5 },
          padding: { top: 7, bottom: 0 }
        }
      }
    }
  },
  plugins: [bordePanel]
});
</script>
</body>
</html>
